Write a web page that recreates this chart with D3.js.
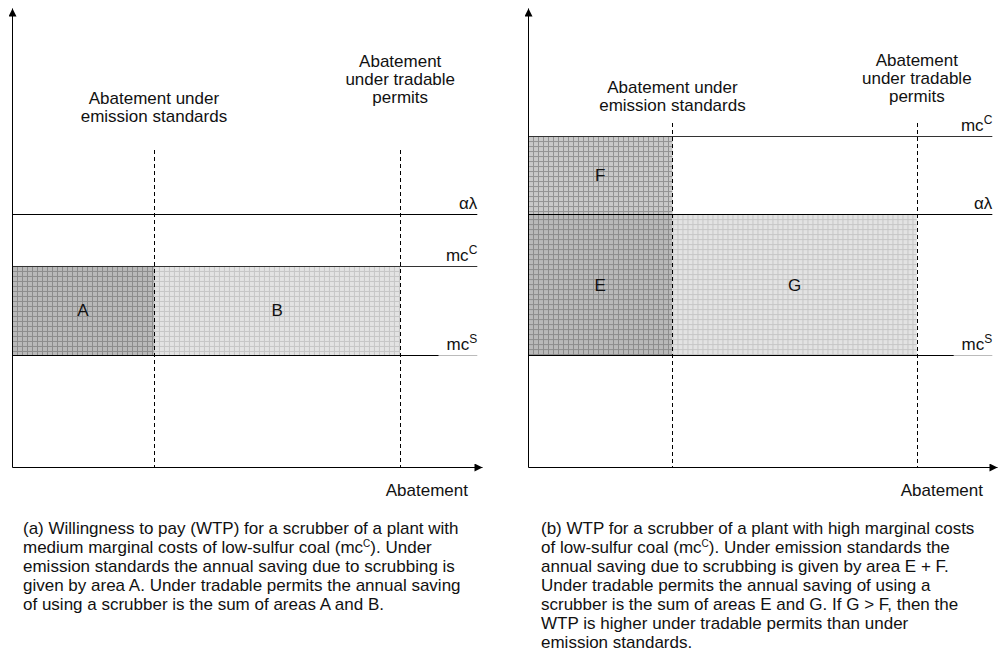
<!DOCTYPE html>
<html>
<head>
<meta charset="utf-8">
<script src="https://cdn.jsdelivr.net/npm/d3@7"></script>
<style>
  body { margin: 0; background: #fff; }
  text { font-family: "Liberation Sans", Arial, sans-serif; fill: #111; }
</style>
</head>
<body>
<div id="chart"></div>
<script>
// cost levels (0-100 of the vertical axis): alpha*lambda, mc^C, mc^S
const levelsA = [55.1, 43.8, 24.4]
const levelsB = [55.1, 72.1, 24.4]
// abatement (0-100): under emission standards, under tradable permits
const abateA = [30.2, 82.6]
const abateB = [30.8, 82.9]
const areaLabelsA = ['A', 'B']
const areaLabelsB = ['E', 'F', 'G']

const captionA = [
  '(a) Willingness to pay (WTP) for a scrubber of a plant with',
  'medium marginal costs of low-sulfur coal (mc^C). Under',
  'emission standards the annual saving due to scrubbing is',
  'given by area A. Under tradable permits the annual saving',
  'of using a scrubber is the sum of areas A and B.'
]
const captionB = [
  '(b) WTP for a scrubber of a plant with high marginal costs',
  'of low-sulfur coal (mc^C). Under emission standards the',
  'annual saving due to scrubbing is given by area E + F.',
  'Under tradable permits the annual saving of using a',
  'scrubber is the sum of areas E and G. If G > F, then the',
  'WTP is higher under tradable permits than under',
  'emission standards.'
]

const width = 1000, height = 658
const fs = 17
const svg = d3.select('#chart').append('svg')
  .attr('width', width).attr('height', height)

const defs = svg.append('defs')

defs.append('marker')
  .attr('id', 'arrow')
  .attr('viewBox', '0 0 10 10')
  .attr('refX', 10).attr('refY', 5)
  .attr('markerWidth', 9).attr('markerHeight', 8)
  .attr('markerUnits', 'userSpaceOnUse')
  .attr('orient', 'auto')
  .append('path')
  .attr('d', 'M0,0L10,5L0,10Z')
  .attr('fill', '#000')

// grid hatch patterns
function makePattern(id, fill, line, ox, oy) {
  const p = defs.append('pattern')
    .attr('id', id)
    .attr('patternUnits', 'userSpaceOnUse')
    .attr('x', ox).attr('y', oy)
    .attr('width', 5).attr('height', 5)
  p.append('rect').attr('width', 5).attr('height', 5).attr('fill', fill)
  p.append('path')
    .attr('d', 'M0.5,0V5M0,0.5H5')
    .attr('stroke', line).attr('stroke-width', 1)
}

// "mc^C" -> mc + superscript C
function supText(sel, str, size) {
  const parts = str.split('^')
  sel.append('tspan').text(parts[0])
  if (parts.length > 1) {
    const rest = parts[1]
    sel.append('tspan')
      .attr('dy', -Math.round(size * 0.4))
      .style('font-size', Math.round(size * 0.72) + 'px')
      .text(rest[0])
    if (rest.length > 1) {
      sel.append('tspan')
        .attr('dy', Math.round(size * 0.4))
        .text(rest.slice(1))
    }
  }
}

function drawPanel(cfg) {
  const x = d3.scaleLinear().domain([0, 100]).range(cfg.xRange)
  const y = d3.scaleLinear().domain([0, 100]).range([467, 8])
  const g = svg.append('g').attr('class', 'panel')

  const [al, mcC, mcS] = cfg.levels
  const [std, tp] = cfg.abate

  // shaded areas
  cfg.areas.forEach((a, i) => {
    const pid = cfg.id + '-pat' + i
    makePattern(pid, a.fill, a.line, x(a.x0), y(a.y1))
    g.append('rect')
      .attr('x', x(a.x0)).attr('y', y(a.y1))
      .attr('width', x(a.x1) - x(a.x0))
      .attr('height', y(a.y0) - y(a.y1))
      .attr('fill', `url(#${pid})`)
    g.append('text')
      .attr('x', (x(a.x0) + x(a.x1)) / 2)
      .attr('y', (y(a.y0) + y(a.y1)) / 2 + 6)
      .attr('text-anchor', 'middle')
      .style('font-size', fs + 'px')
      .text(a.label)
  })

  // horizontal cost lines
  const lines = [
    { v: al, name: 'αλ', color: '#000' },
    { v: mcC, name: 'mc^C', color: '#333' },
    { v: mcS, name: 'mc^S', color: '#000' }
  ]
  lines.forEach(l => {
    const yy = Math.round(y(l.v)) + 0.5
    const fade = l.name === 'mc^S' ? 90.8 : 99
    g.append('line')
      .attr('x1', x(0)).attr('x2', x(fade))
      .attr('y1', yy).attr('y2', yy)
      .attr('stroke', l.color).attr('stroke-width', 1.2)
    if (fade < 99) {
      g.append('line')
        .attr('x1', x(fade)).attr('x2', x(99))
        .attr('y1', yy).attr('y2', yy)
        .attr('stroke', '#bbb').attr('stroke-width', 1.2)
    }
    const t = g.append('text')
      .attr('x', x(99)).attr('y', Math.round(y(l.v)) - 5)
      .attr('text-anchor', 'end')
      .style('font-size', fs + 'px')
    supText(t, l.name, fs)
  })

  // dashed abatement lines
  ;[std, tp].forEach((v, i) => {
    g.append('line')
      .attr('x1', Math.round(x(v)) + 0.5).attr('x2', Math.round(x(v)) + 0.5)
      .attr('y1', cfg.dashTop[i]).attr('y2', 467)
      .attr('stroke', '#000').attr('stroke-width', 1)
      .attr('stroke-dasharray', '4,3')
  })

  // labels above the dashed lines
  const stdLab = g.append('text')
    .attr('text-anchor', 'middle')
    .style('font-size', fs + 'px')
  ;['Abatement under', 'emission standards'].forEach((s, i) => {
    stdLab.append('tspan').attr('x', x(std)).attr('y', cfg.stdLabelY + i * 18).text(s)
  })
  const tpLab = g.append('text')
    .attr('text-anchor', 'middle')
    .style('font-size', fs + 'px')
  ;['Abatement', 'under tradable', 'permits'].forEach((s, i) => {
    tpLab.append('tspan').attr('x', x(tp)).attr('y', cfg.tpLabelY + i * 18).text(s)
  })

  // axes
  const xAxis = g.append('g')
    .attr('transform', 'translate(0,467)')
    .call(d3.axisBottom(x).tickValues([]).tickSizeOuter(0))
  xAxis.select('.domain').attr('stroke', '#000').attr('marker-end', 'url(#arrow)')
  const yAxis = g.append('g')
    .attr('transform', `translate(${cfg.xRange[0]},0)`)
    .call(d3.axisLeft(y).tickValues([]).tickSizeOuter(0))
  yAxis.select('.domain').attr('stroke', '#000').attr('marker-end', 'url(#arrow)')

  g.append('text')
    .attr('x', x(100) - 14).attr('y', 496)
    .attr('text-anchor', 'end')
    .style('font-size', fs + 'px')
    .text('Abatement')

  // caption
  const cap = g.append('text').style('font-size', fs + 'px')
  cfg.caption.forEach((s, i) => {
    const ts = cap.append('tspan').attr('x', cfg.capX).attr('y', 534 + i * 19)
    const m = s.split('^')
    if (m.length > 1) {
      ts.text(m[0])
      cap.append('tspan').attr('dy', -6).style('font-size', '10px').text(m[1][0])
      cap.append('tspan').attr('dy', 6).text(m[1].slice(1))
    } else {
      ts.text(s)
    }
  })
}

const darkFill = '#b9b9b9', darkLine = '#8c8c8c'
const midFill = '#c9c9c9', midLine = '#929292'
const lightFill = '#e3e3e3', lightLine = '#c6c6c6'

drawPanel({
  id: 'a',
  xRange: [12, 482],
  levels: levelsA,
  abate: abateA,
  dashTop: [150, 150],
  stdLabelY: 104,
  tpLabelY: 67,
  caption: captionA,
  capX: 23,
  areas: [
    { label: areaLabelsA[0], x0: 0, x1: abateA[0], y0: levelsA[2], y1: levelsA[1], fill: darkFill, line: darkLine },
    { label: areaLabelsA[1], x0: abateA[0], x1: abateA[1], y0: levelsA[2], y1: levelsA[1], fill: lightFill, line: lightLine }
  ]
})

drawPanel({
  id: 'b',
  xRange: [528, 997],
  levels: levelsB,
  abate: abateB,
  dashTop: [123, 123],
  stdLabelY: 93,
  tpLabelY: 66,
  caption: captionB,
  capX: 541,
  areas: [
    { label: areaLabelsB[0], x0: 0, x1: abateB[0], y0: levelsB[2], y1: levelsB[0], fill: darkFill, line: darkLine },
    { label: areaLabelsB[1], x0: 0, x1: abateB[0], y0: levelsB[0], y1: levelsB[1], fill: midFill, line: midLine },
    { label: areaLabelsB[2], x0: abateB[0], x1: abateB[1], y0: levelsB[2], y1: levelsB[0], fill: lightFill, line: lightLine }
  ]
})
</script>
</body>
</html>
